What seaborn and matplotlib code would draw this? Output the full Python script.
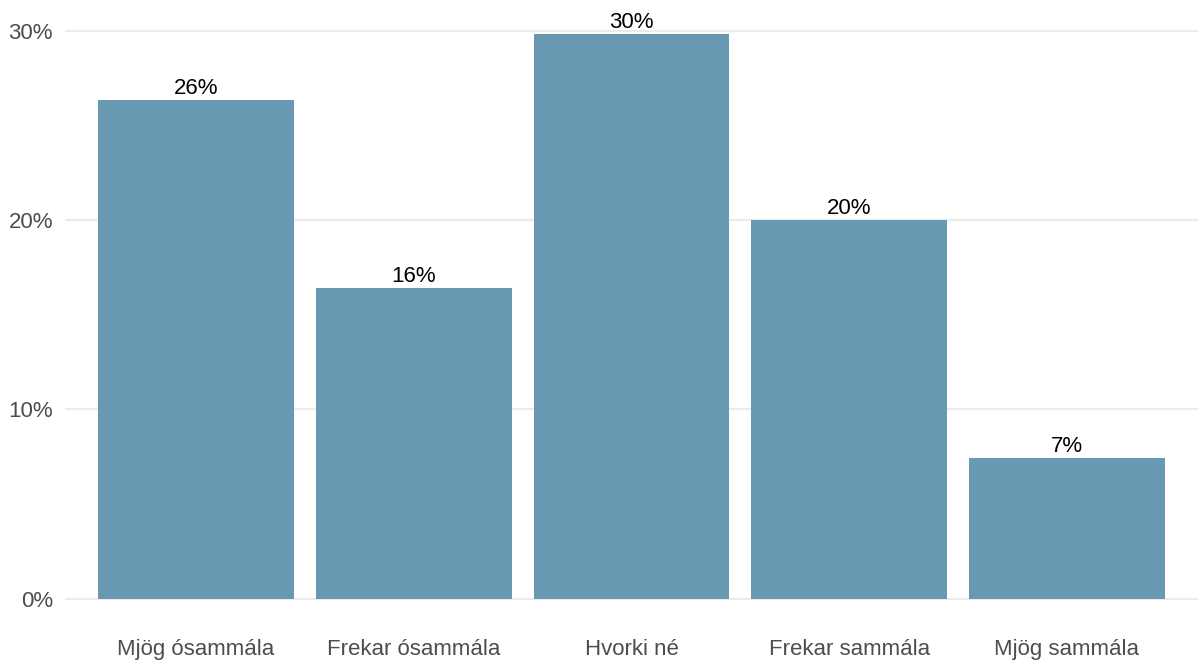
import matplotlib
matplotlib.use("Agg")
import matplotlib.pyplot as plt
import matplotlib.ticker as ticker
import seaborn as sns
import pandas as pd

categories = ["Mjög ósammála", "Frekar ósammála", "Hvorki né", "Frekar sammála", "Mjög sammála"]
shares = [26.35, 16.43, 29.84, 20.01, 7.44]
bar_labels = ["26%", "16%", "30%", "20%", "7%"]
yticks = [0, 10, 20, 30]

df = pd.DataFrame({"svar": categories, "hlutfall": shares})

sns.set_style("white")
plt.rcParams['font.family'] = ['Liberation Sans', 'DejaVu Sans']

fig = plt.figure(figsize=(12, 6.62), dpi=100)
ax = fig.add_axes([0.0545, 0.0533, 0.9435, 0.9379])

sns.barplot(data=df, x="svar", y="hlutfall", color="#6999b2", saturation=1,
            width=0.9, linewidth=0, ax=ax, zorder=2)

for i, (v, lab) in enumerate(zip(shares, bar_labels)):
    ax.text(i, v + 0.05, lab, ha="center", va="bottom", fontsize=16, color="black")

ax.set_xlim(-0.6, 4.6)
ax.set_ylim(-1.49, 31.33)
ax.set_yticks(yticks)
ax.yaxis.set_major_formatter(ticker.FuncFormatter(lambda v, p: f"{v:.0f}%"))
ax.grid(axis="y", color="#ebebeb", linewidth=1.6, zorder=0)
ax.set_axisbelow(True)
ax.tick_params(axis="both", length=0, labelsize=16, labelcolor="#4d4d4d")
ax.tick_params(axis="x", pad=9)
ax.tick_params(axis="y", pad=9)
ax.set_xlabel("")
ax.set_ylabel("")
sns.despine(left=True, bottom=True)

fig.savefig("out.png", dpi=100)
